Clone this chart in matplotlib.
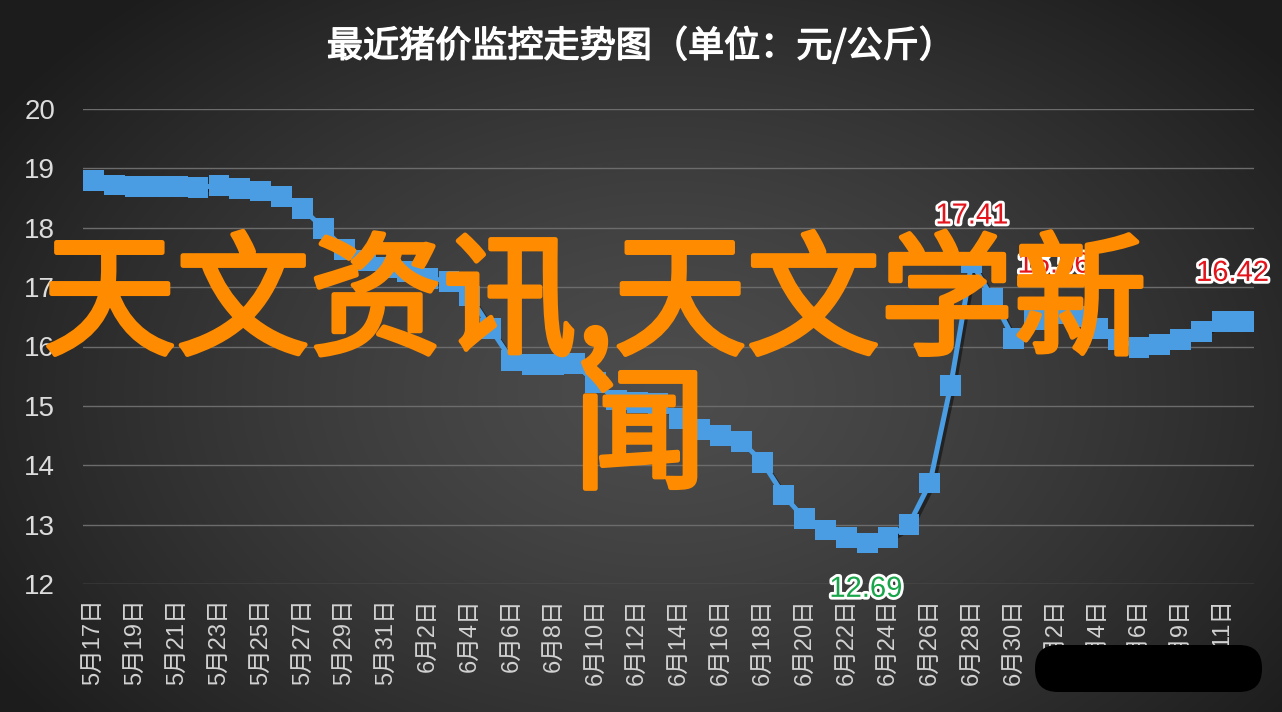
import matplotlib
matplotlib.use("Agg")
import matplotlib.pyplot as plt
import matplotlib.patheffects as pe
import matplotlib.transforms as mtransforms
from matplotlib.patches import FancyBboxPatch
import numpy as np

plt.rcParams['font.family'] = ['Liberation Sans', 'Noto Sans CJK SC', 'DejaVu Sans']

# 日期（每点一个，标签隔一个显示）
dates = ['5月17日', '5月18日', '5月19日', '5月20日', '5月21日', '5月22日', '5月23日', '5月24日',
         '5月25日', '5月26日', '5月27日', '5月28日', '5月29日', '5月30日', '5月31日', '6月1日',
         '6月2日', '6月3日', '6月4日', '6月5日', '6月6日', '6月7日', '6月8日', '6月9日',
         '6月10日', '6月11日', '6月12日', '6月13日', '6月14日', '6月15日', '6月16日', '6月17日',
         '6月18日', '6月19日', '6月20日', '6月21日', '6月22日', '6月23日', '6月24日', '6月25日',
         '6月26日', '6月27日', '6月28日', '6月29日', '6月30日', '7月1日', '7月2日', '7月3日',
         '7月4日', '7月5日', '7月6日', '7月8日', '7月9日', '7月10日', '7月11日', '7月12日']

prices = [18.80, 18.72, 18.70, 18.70, 18.69, 18.68, 18.71, 18.66,
          18.62, 18.52, 18.32, 17.99, 17.64, 17.45, 17.33, 17.27,
          17.15, 17.10, 16.85, 16.30, 15.77, 15.69, 15.69, 15.71,
          15.40, 15.10, 15.06, 15.04, 14.79, 14.60, 14.50, 14.40,
          14.05, 13.50, 13.10, 12.91, 12.79, 12.69, 12.79, 13.00,
          13.70, 15.35, 17.41, 16.81, 16.14, 16.45, 16.56, 16.50,
          16.30, 16.12, 15.98, 16.03, 16.12, 16.25, 16.42, 16.42]

# 数据标签：(索引, 文本, 颜色, 偏移)
labels = [(42, '17.41', '#e3141b', (0, 34)),
          (46, '16.56', '#e3141b', (-1, 35)),
          (55, '16.42', '#e3141b', (-8, 35)),
          (37, '12.69', '#19a54a', (-1, -33))]

title = '最近猪价监控走势图（单位：元/公斤）'
yticks = [12, 13, 14, 15, 16, 17, 18, 19, 20]

W, H = 1282, 712
fig = plt.figure(figsize=(W / 100, H / 100), dpi=100)

# 背景径向渐变
bg = fig.add_axes([0, 0, 1, 1])
yy, xx = np.mgrid[0:1:H * 1j, 0:1:W * 1j]
r = np.sqrt(((xx - 0.52) / 0.62) ** 2 + ((yy - 0.55) / 0.75) ** 2)
v = np.clip(0.30 - 0.19 * r ** 1.3, 0.11, 0.30)
bg.imshow(np.dstack([v, v, v]), aspect='auto', extent=[0, 1, 0, 1])
bg.axis('off')

ax = fig.add_axes([83 / W, 1 - 584 / H, (1254 - 83) / W, (584 - 109) / H])
ax.set_facecolor('none')
x = np.arange(len(prices))
ax.plot(x, prices, color='#4a9de2', lw=3.6, marker='s', ms=15,
        markeredgewidth=0, solid_joinstyle='miter',
        path_effects=[pe.SimpleLineShadow(offset=(2, -2), shadow_color='black', alpha=0.45),
                      pe.Normal()], zorder=3)

ax.set_xlim(-0.5, len(prices) - 0.5)
ax.set_ylim(12, 20)
ax.set_yticks(yticks)
ax.set_yticklabels([str(t) for t in yticks], fontsize=20, color='#dcdcdc')
ax.set_xticks(x[::2])
ax.set_xticklabels(dates[::2], rotation=90, fontsize=17, color='#d2d2d2')
ax.tick_params(axis='both', length=0)
ax.tick_params(axis='y', pad=20)
ax.tick_params(axis='x', pad=10)
ax.grid(axis='y', color='#6c6c6c', lw=1)
ax.set_axisbelow(True)
for s in ax.spines.values():
    s.set_visible(False)

for i, txt, col, off in labels:
    ax.annotate(txt, (i, prices[i]), xytext=off, textcoords='offset points',
                ha='center', va='center', fontsize=21, color=col, zorder=5,
                path_effects=[pe.withStroke(linewidth=4, foreground='white')])

fig.text(0.5, 1 - 46 / H, title, ha='center', va='center', fontsize=26, color='white',
         family=['Noto Sans CJK SC', 'DejaVu Sans'],
         path_effects=[pe.withStroke(linewidth=1, foreground='white')])

# 水印文字（常规字重加描边，接近中粗）
orange = '#ff8c00'
thick = [pe.withStroke(linewidth=3.5, foreground=orange)]
fig.text(595 / W, 1 - 305 / H, '天文资讯,天文学新', ha='center', va='center', fontsize=96,
         color=orange, family=['Noto Sans CJK SC', 'DejaVu Sans'], zorder=10,
         path_effects=thick)
fig.text(640 / W, 1 - 440 / H, '闻', ha='center', va='center', fontsize=96,
         color=orange, family=['Noto Sans CJK SC', 'DejaVu Sans'], zorder=10,
         path_effects=thick)

# 黑色遮挡块
pill = FancyBboxPatch((1035, 20), 227, 47, boxstyle='round,pad=0,rounding_size=23',
                      facecolor='black', edgecolor='none',
                      transform=mtransforms.IdentityTransform(), zorder=20)
fig.add_artist(pill)

fig.savefig('out.png', dpi=100)
